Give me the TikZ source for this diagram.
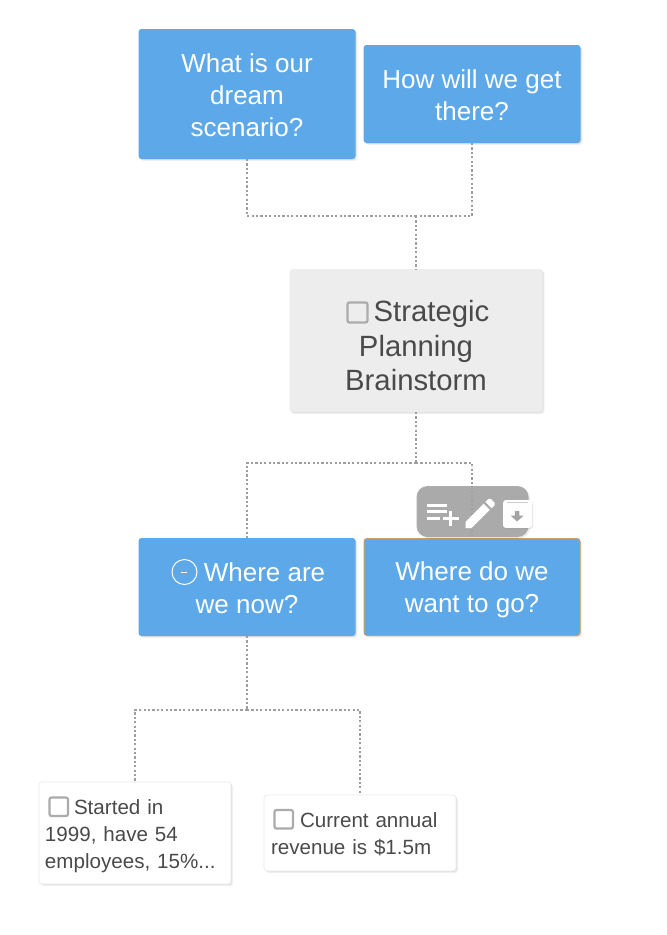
\documentclass[tikz,border=0pt]{standalone}
\usepackage{fontspec}
\setmainfont{Liberation Sans}
\usetikzlibrary{shadows}
\definecolor{cardblue}{HTML}{5DA8E9}
\definecolor{centergray}{HTML}{EDEDED}
\definecolor{inkgray}{HTML}{4A4A4A}
\definecolor{linkgray}{HTML}{9E9E9E}
\definecolor{tickgray}{HTML}{ABABAB}
\definecolor{orangeedge}{HTML}{D09C60}
\definecolor{toolgray}{HTML}{A3A3A3}
\definecolor{hairline}{HTML}{EBEBEB}
\newcommand{\topfix}[1]{\rule{0pt}{#1pt}}
\tikzset{
  softshadow/.style={drop shadow={shadow xshift=1pt,shadow yshift=-1pt,opacity=.07,fill=black},
                     drop shadow={shadow xshift=2.2pt,shadow yshift=-2.2pt,opacity=.05,fill=black}},
  card/.style={rectangle,rounded corners=3pt,inner sep=0pt,outer sep=0pt,softshadow,align=center},
  bluecard/.style={card,fill=cardblue,text=white,minimum width=217pt,
     font=\fontsize{26}{32.3}\selectfont},
  centercard/.style={card,fill=centergray,text=inkgray,minimum width=253pt,minimum height=143pt,
     font=\fontsize{29.3}{34.5}\selectfont},
  notecard/.style={card,fill=white,draw=hairline,line width=.7pt,text=inkgray,minimum width=192pt,
     font=\fontsize{20.6}{27}\selectfont},
  linkline/.style={draw=linkgray,line width=2pt,dash pattern=on 2.2pt off 2.2pt},
  tickbox/.style={draw=tickgray,line width=2.2pt,fill=none,rounded corners=2pt},
  toolicon/.style={fill=white,draw=none}
}
\begin{document}
\begin{tikzpicture}[x=1pt,y=-1pt]
\useasboundingbox (0,0) rectangle (667,935);
\fill[white] (0,0) rectangle (667,935);
% cards
\node[bluecard,minimum height=130pt] (dream) at (247,94) {\topfix{21}What is our\\dream\\scenario?};
\node[bluecard,minimum height=98pt] (how) at (472,94) {\topfix{21}How will we get\\there?};
\node[centercard] (center) at (416,340.5) {\topfix{31.5}\hspace*{31pt}Strategic\\Planning\\Brainstorm};
\node[bluecard,minimum height=98pt] (now) at (247,587) {\topfix{21}\hspace*{35pt}Where are\\we now?};
\node[bluecard,minimum width=216pt,minimum height=97pt,draw=orangeedge,line width=1pt] (want) at (472,587) {\topfix{25}Where do we\\want to go?};
\node[notecard,minimum height=102pt,text width=180pt,align=left] (started) at (135,833) {\topfix{21.3}\hspace*{29pt}Started in\\1999, have 54\\employees, 15\%...};
\node[notecard,minimum height=76pt,text width=178pt,align=left] (current) at (360,833) {\topfix{17.3}\hspace*{29pt}Current annual\\revenue is \$1.5m};
% junctions
\coordinate (upper) at (416,216);
\coordinate (middle) at (416,463);
\coordinate (lower) at (247,710);
% connectors
\draw[linkline] (dream.south) |- (upper);
\draw[linkline] (how.south) |- (upper);
\draw[linkline] (upper) -- (center.north);
\draw[linkline] (center.south) -- (middle);
\draw[linkline] (middle) -| (now.north);
\draw[linkline] (middle) -| (want.north);
\draw[linkline] (now.south) -- (lower);
\draw[linkline] (lower) -| (started.north);
\draw[linkline] (lower) -| (current.north);
% check boxes
\draw[tickbox] (347.5,302.5) rectangle (367.5,322.5);
\draw[tickbox] (49.5,797.5) rectangle (68,816);
\draw[tickbox] (274.5,810) rectangle (293,828.5);
% minus circle
\draw[white,line width=1pt] (184.5,572) circle (12.5);
\draw[white,line width=1.5pt] (180.7,572.7) -- (187.3,572.7);
% toolbar
\fill[toolgray,fill opacity=.9,drop shadow={shadow xshift=1.5pt,shadow yshift=-1.5pt,opacity=.08,fill=black}] (416.5,486) [rounded corners=11pt] rectangle (528.5,537);
% add-to-list icon
\fill[toolicon] (427,503.5) rectangle (447,506.5);
\fill[toolicon] (427,510.2) rectangle (447,513.2);
\fill[toolicon] (427,516.8) rectangle (440,519.8);
\fill[toolicon] (443,516.8) rectangle (458.5,519.8);
\fill[toolicon] (449.2,511) rectangle (452.2,526);
% pencil icon
\fill[toolicon] (465.5,521.8) -- (465.5,528) -- (471.7,528) -- (489.8,509.9) -- (483.6,503.7) -- cycle;
\fill[toolicon] (485.4,501.9) -- (488.4,498.9) .. controls (489.1,498.2) and (490.2,498.2) .. (490.9,498.9) -- (494.7,502.7) .. controls (495.4,503.4) and (495.4,504.5) .. (494.7,505.2) -- (491.7,508.2) -- cycle;
% archive icon
\fill[toolicon,rounded corners=3pt,drop shadow={shadow xshift=1pt,shadow yshift=-1pt,opacity=.1,fill=black}] (503,500) rectangle (532,528);
\fill[black!20] (507,501.8) rectangle (528,502.6);
\fill[toolgray] (514.8,511) rectangle (519.4,515.5) (510.5,515.5) -- (523.7,515.5) -- (517.1,521.5) -- cycle;
\end{tikzpicture}
\end{document}
